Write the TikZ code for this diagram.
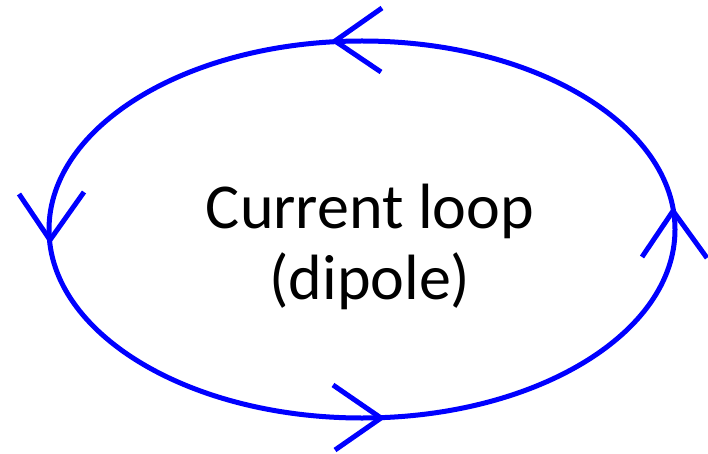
\documentclass[tikz,border=0pt]{standalone}
\usepackage{fontspec}
\setmainfont{Carlito}
\usepackage{tikz}
\usetikzlibrary{shapes.geometric}
\tikzset{
  % loop and its direction marks
  wire/.style={draw=blue, line width=5pt},
  chevron/.style={wire, line join=miter}
}

\begin{document}
\begin{tikzpicture}[x=1pt, y=-1pt]
    \useasboundingbox (0,0) rectangle (708,454);

    % the loop
    \node [wire, ellipse, minimum width=626pt, minimum height=377pt, inner sep=0pt] (loop) at (362,229.5) {};

    % direction marks
    \coordinate (toptip) at (335,41);
    \coordinate (lefttip) at (50,240);
    \coordinate (bottip) at (381,418);
    \coordinate (righttip) at (673,211);
    \draw [chevron] (382,8) -- (toptip) -- (381,72);
    \draw [chevron] (19,194) -- (lefttip) -- (84,192);
    \draw [chevron] (333,385) -- (bottip) -- (335,450);
    \draw [chevron] (642,257) -- (righttip) -- (707,258);

    % label
    \node [align=center, inner sep=0pt, font=\fontsize{64}{71}\selectfont] (label) at (370,247) {Current loop\\(dipole)};
\end{tikzpicture}
\end{document}
